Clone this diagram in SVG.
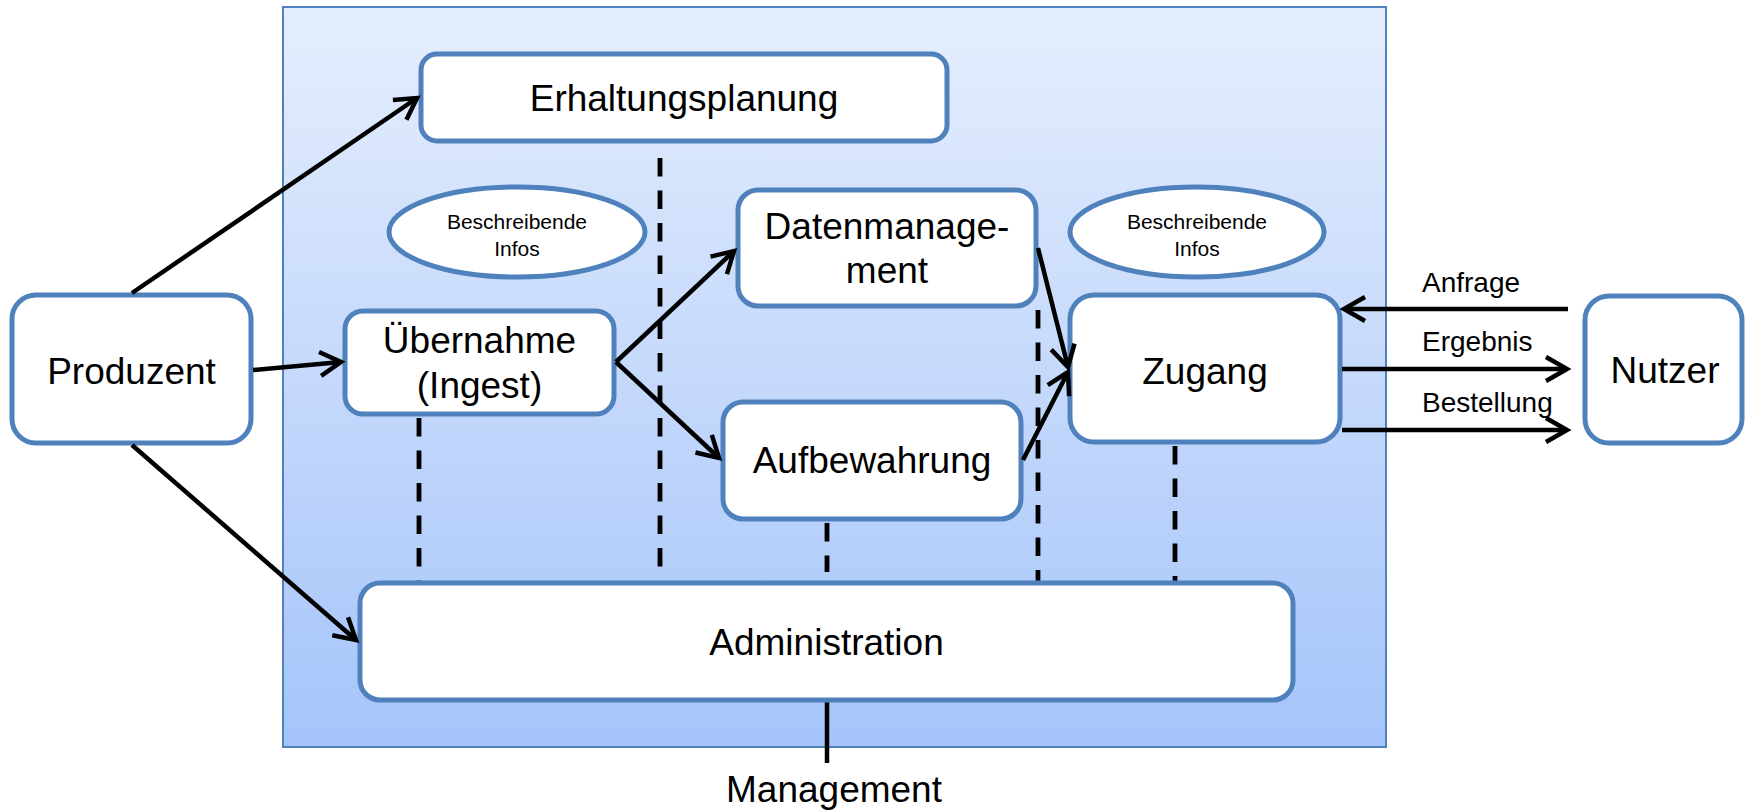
<svg xmlns="http://www.w3.org/2000/svg" width="1746" height="812" viewBox="0 0 1746 812">
<defs>
<linearGradient id="bgGrad" x1="0" y1="0" x2="0" y2="1">
<stop offset="0" stop-color="#E5EEFD"/>
<stop offset="1" stop-color="#A5C4FA"/>
</linearGradient>
<marker id="arr" markerUnits="userSpaceOnUse" markerWidth="34" markerHeight="34" viewBox="-28 -17 34 34" refX="0" refY="0" orient="auto" overflow="visible">
<path d="M -21 -12 L 0 0 L -21 12" fill="none" stroke="#000" stroke-width="4.5" stroke-linejoin="miter"/>
</marker>
</defs>
<style>
.box{fill:#fff;stroke:#4F81BD;stroke-width:5}
.t{font-family:"Liberation Sans",Arial,sans-serif;fill:#000;text-anchor:middle}
.big{font-size:37px}
.small{font-size:21px}
.lab{font-family:"Liberation Sans",Arial,sans-serif;font-size:28px;fill:#000}
.line{stroke:#000;stroke-width:4.5;fill:none}
.arrow{stroke:#000;stroke-width:4.5;fill:none;marker-end:url(#arr)}
.dash{stroke:#000;stroke-width:4.8;fill:none;stroke-dasharray:18.5 14}
</style>
<rect id="system" x="283" y="7" width="1103" height="740" fill="url(#bgGrad)" stroke="#4F81BD" stroke-width="2"/>

<g id="connectors">
<line class="dash" x1="660" y1="158" x2="660" y2="568"/>
<line class="dash" x1="419" y1="418" x2="419" y2="581"/>
<line class="dash" x1="827" y1="523" x2="827" y2="572"/>
<line class="dash" x1="1038" y1="310" x2="1038" y2="581"/>
<line class="dash" x1="1175" y1="446" x2="1175" y2="581"/>
<line class="line" x1="827" y1="702" x2="827" y2="763"/>
</g>

<g id="produzent"><rect class="box" x="12" y="295" width="239" height="148" rx="24"/><text class="t big" x="131.5" y="384">Produzent</text></g>
<g id="erhaltungsplanung"><rect class="box" x="421" y="54" width="526" height="87" rx="16"/><text class="t big" x="684" y="111">Erhaltungsplanung</text></g>
<g id="info1"><ellipse class="box" cx="517" cy="232" rx="128" ry="45"/><text class="t small" x="517" y="229">Beschreibende</text><text class="t small" x="517" y="256">Infos</text></g>
<g id="uebernahme"><rect class="box" x="345" y="311" width="269" height="103" rx="18"/><text class="t big" x="479.5" y="353">Übernahme</text><text class="t big" x="479.5" y="398">(Ingest)</text></g>
<g id="datenmanagement"><rect class="box" x="738" y="190" width="298" height="116" rx="20"/><text class="t big" x="887" y="239">Datenmanage-</text><text class="t big" x="887" y="283">ment</text></g>
<g id="aufbewahrung"><rect class="box" x="723" y="402" width="298" height="117" rx="20"/><text class="t big" x="872" y="473">Aufbewahrung</text></g>
<g id="info2"><ellipse class="box" cx="1197" cy="232" rx="127" ry="45"/><text class="t small" x="1197" y="229">Beschreibende</text><text class="t small" x="1197" y="256">Infos</text></g>
<g id="zugang"><rect class="box" x="1070" y="295" width="270" height="147" rx="24"/><text class="t big" x="1205" y="384">Zugang</text></g>
<g id="nutzer"><rect class="box" x="1585" y="296" width="157" height="147" rx="24"/><text class="t big" x="1665" y="383">Nutzer</text></g>
<g id="administration"><rect class="box" x="360" y="583" width="933" height="117" rx="20"/><text class="t big" x="826.5" y="655">Administration</text></g>
<g id="management"><text class="t big" x="834" y="802">Management</text></g>

<g id="arrows">
<line class="arrow" x1="132" y1="293" x2="417" y2="98"/>
<line class="arrow" x1="253" y1="370" x2="341" y2="362"/>
<line class="arrow" x1="132" y1="445" x2="356" y2="640"/>
<line class="arrow" x1="616" y1="362" x2="734" y2="251"/>
<line class="arrow" x1="616" y1="362" x2="719" y2="458"/>
<line class="arrow" x1="1038" y1="248" x2="1068" y2="367"/>
<line class="arrow" x1="1023" y1="460" x2="1068" y2="372"/>
<line class="arrow" x1="1568" y1="309" x2="1344" y2="309"/>
<line class="arrow" x1="1342" y1="369" x2="1567" y2="369"/>
<line class="arrow" x1="1342" y1="430" x2="1567" y2="430"/>
<text class="lab" x="1422" y="292">Anfrage</text>
<text class="lab" x="1422" y="351">Ergebnis</text>
<text class="lab" x="1422" y="412">Bestellung</text>
</g>
</svg>
